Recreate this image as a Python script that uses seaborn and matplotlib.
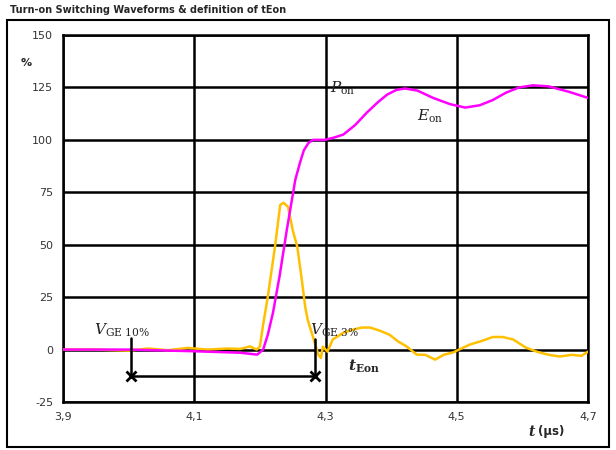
import numpy as np
import pandas as pd
import matplotlib
matplotlib.use("Agg")
import matplotlib.pyplot as plt
import seaborn as sns

# Eon (magenta)
t_eon = [3.90, 4.00, 4.10, 4.17, 4.19, 4.196, 4.205, 4.212, 4.22, 4.23, 4.241, 4.254,
         4.261, 4.267, 4.274, 4.281, 4.299, 4.312, 4.327, 4.345, 4.363, 4.38, 4.394,
         4.408, 4.421, 4.44, 4.464, 4.49, 4.513, 4.535, 4.555, 4.575, 4.595, 4.616,
         4.64, 4.67, 4.70]
eon = [0, 0, -0.8, -1.5, -2.2, -2.4, 0, 7, 17.6, 35, 57, 81,
       89, 95, 98.5, 100, 100, 101, 102.5, 107, 113, 118, 121.6,
       123.8, 124.5, 123.5, 120, 117, 115.4, 116.5, 119, 122.5, 125, 126,
       125.5, 123, 120]

# Pon (yellow)
t_pon = [3.90, 3.95, 4.00, 4.03, 4.06, 4.09, 4.12, 4.15, 4.17, 4.185, 4.195, 4.20,
         4.205, 4.212, 4.223, 4.231, 4.236, 4.243, 4.25, 4.257, 4.264, 4.269, 4.273,
         4.281, 4.289, 4.293, 4.296, 4.303, 4.311, 4.327, 4.342, 4.355, 4.368, 4.383,
         4.398, 4.41, 4.424, 4.439, 4.452, 4.467, 4.48, 4.494, 4.507, 4.52, 4.537,
         4.555, 4.57, 4.586, 4.605, 4.622, 4.64, 4.657, 4.675, 4.69, 4.70]
pon = [0, 0, -0.5, 0.5, -0.3, 0.8, 0, 0.5, 0.3, 1.5, 0, 1.4,
       12, 25, 49, 69, 70, 68, 57, 49, 33, 20.5, 14,
       6, -2.4, -4, 1.4, -1, 4.8, 8, 9.5, 10.5, 10.5, 9,
       7, 4, 1.4, -2.4, -2.5, -4.8, -2.5, -1.4, 0.5, 2.4, 4,
       6, 6, 4.8, 1, -1, -2.5, -3.3, -2.5, -3, -1]

x_ticks = [3.9, 4.1, 4.3, 4.5, 4.7]
x_labels = ["3,9", "4,1", "4,3", "4,5", "4,7"]
y_ticks = [-25, 0, 25, 50, 75, 100, 125, 150]

# tEon marker positions
t_start, t_end, t_level = 4.004, 4.284, -12.4

sns.set_style("white")
plt.rcParams["font.family"] = ["DejaVu Sans"]
plt.rcParams["axes.unicode_minus"] = False
plt.rcParams["mathtext.fontset"] = "dejavuserif"

fig = plt.figure(figsize=(6.16, 4.5), dpi=100)
ax = fig.add_axes([63 / 616, 48 / 450, 525 / 616, 367 / 450])

df_pon = pd.DataFrame({"t": t_pon, "v": pon})
df_eon = pd.DataFrame({"t": t_eon, "v": eon})
sns.lineplot(data=df_pon, x="t", y="v", ax=ax, color="#FFC000", lw=1.8, zorder=3)
sns.lineplot(data=df_eon, x="t", y="v", ax=ax, color="#FF00FF", lw=1.8, zorder=4)

ax.set_xlim(3.9, 4.7)
ax.set_ylim(-25, 150)
ax.set_xticks(x_ticks)
ax.set_xticklabels(x_labels)
ax.set_yticks(y_ticks)
ax.set_xlabel("")
ax.set_ylabel("")
ax.grid(True, color="black", lw=1.8)
for s in ax.spines.values():
    s.set_color("black")
    s.set_linewidth(1.8)
ax.tick_params(axis="both", direction="out", length=4, width=1.2, color="black",
               labelsize=8, labelcolor="#333333", pad=3)

# tEon definition marks
ax.plot([t_start, t_start], [5.7, t_level], color="black", lw=1.8, zorder=5)
ax.plot([t_end, t_end], [5.0, t_level], color="black", lw=1.8, zorder=5)
ax.plot([t_start, t_end], [t_level, t_level], color="black", lw=1.8, zorder=5)
ax.plot([t_start, t_end], [t_level, t_level], ls="none", marker="x", ms=7,
        mew=2, color="black", zorder=6)

ax.text(3.948, 7, r"$V_{\mathrm{GE\ 10\%}}$", fontsize=11, color="#222222", zorder=7)
ax.text(4.276, 7, r"$V_{\mathrm{GE\ 3\%}}$", fontsize=11, color="#222222", zorder=7)
ax.text(4.334, -10, r"$\boldsymbol{t}_{\mathbf{Eon}}$", fontsize=11, zorder=7)
ax.text(4.307, 122.5, r"$P_{\mathrm{on}}$", fontsize=11, color="#222222", zorder=7)
ax.text(4.44, 109, r"$E_{\mathrm{on}}$", fontsize=11, color="#222222", zorder=7)

fig.text(21 / 616, 1 - 63 / 450, "%", fontsize=8, fontweight="bold", va="center")
fig.text(528 / 616, 1 - 432 / 450, r"$\boldsymbol{t}$", fontsize=10, va="center")
fig.text(538 / 616, 1 - 432 / 450, "(µs)", fontsize=8.5,
         fontweight="bold", va="center")
fig.text(10 / 616, 1 - 10 / 450, "Turn-on Switching Waveforms & definition of tEon",
         fontsize=7, fontweight="bold", va="center")

fig.add_artist(plt.Rectangle((7 / 616, 3 / 450), 602 / 616, 427 / 450,
                             transform=fig.transFigure, fill=False,
                             edgecolor="black", lw=1.5))

fig.savefig("out.png", dpi=100)
